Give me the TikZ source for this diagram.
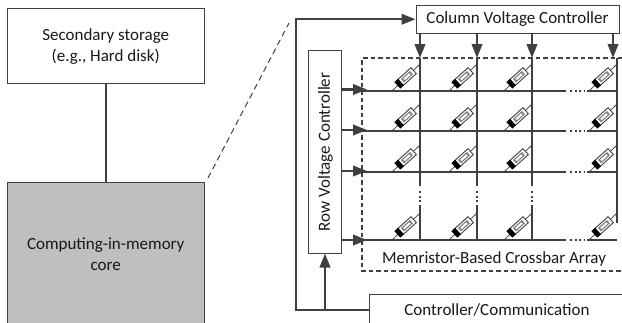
\documentclass[tikz,border=0pt]{standalone}
\usepackage{fontspec}
\setmainfont{Carlito}
\usetikzlibrary{arrows.meta,calc}
\definecolor{ink}{HTML}{404040}
\definecolor{coregray}{HTML}{BFBFBF}
\tikzset{
  box/.style={draw=ink,line width=1pt,fill=white,inner sep=0pt,align=center,font=\fontsize{17}{20.5}\selectfont,text=black!90},
  label/.style={inner sep=0pt,align=center,font=\fontsize{17}{20.5}\selectfont,text=black!90},
  wire/.style={draw=ink,line width=2.2pt},
  arrowwire/.style={draw=ink,line width=2.2pt,-{Triangle[length=14pt,width=10.5pt]}},
  dots/.style={draw=ink,line width=1.6pt,dash pattern=on 2pt off 2.5pt},
  pics/memristor/.style={code={
    \fill[white,draw=ink,line width=.9pt] (-7,-4) rectangle (11,4);
    \fill[black] (-11,-4.4) rectangle (-6,4.4);
    \fill[black!50] (-4,-2.3) rectangle (8,2.3);
    \fill[white] (-2,-1) rectangle (6,1);
  }}
}
\begin{document}
\begin{tikzpicture}[x=1pt,y=-1pt]
\useasboundingbox (0,0) rectangle (622,322);
\clip (0,0) rectangle (622,322);
% left column
\node[box,minimum width=196.5pt,minimum height=75pt] (sec) at (105.75,45.5) {};
\node[label] (sectext) at (105.75,46.5) {Secondary storage\\(e.g., Hard disk)};
\node[box,fill=coregray,minimum width=196.5pt,minimum height=170pt] (core) at (105.75,267) {};
\node[label] (coretext) at (105.75,254) {Computing-in-memory\\core};
\draw[wire] (sec) -- (core);
\coordinate (zoomA) at (208,178);
\coordinate (zoomB) at (289,23);
\draw[draw=ink,line width=1pt,dash pattern=on 6pt off 4pt] (zoomA) -- (zoomB);
% controllers
\node[box,minimum width=203pt,minimum height=28.5pt] (col) at (517.5,19.25) {Column Voltage Controller};
\node[box,minimum width=32.5pt,minimum height=203pt] (row) at (325,151.5) {};
\node[label,rotate=90] (rowtext) at (325.5,152) {Row Voltage Controller};
\node[box,minimum width=271pt,minimum height=46pt,anchor=north west] (ctrl) at (369,294) {};
\node[label] (ctrltext) at (497,310) {Controller/Communication};
\coordinate (port) at (369,310);
\coordinate (busx) at (296,310);
\coordinate (rowtap) at (325,310);
\draw[arrowwire] (port) -- (busx) |- (col.west);
\draw[arrowwire] (rowtap) -- (row.south);
% array frame
\coordinate (frameTR) at (630,58);
\coordinate (frameTL) at (362,58);
\coordinate (frameBL) at (362,271);
\coordinate (frameBR) at (630,271);
\draw[draw=ink,line width=1.7pt,dash pattern=on 4.5pt off 3pt] (frameTR) -- (frameTL) -- (frameBL) -- (frameBR);
\node[label] (arraytext) at (494,259) {Memristor-Based Crossbar Array};
% rows
\foreach \n/\y/\ay in {1/91/89.5,2/131/130,3/172/171,4/240/240}{
  \coordinate (rs\n) at (362,\y);
  \coordinate (re\n) at (566,\y);
  \coordinate (ds\n) at (570,\y);
  \coordinate (de\n) at (584,\y);
  \coordinate (ls\n) at (587,\y);
  \coordinate (le\n) at (617,\y);
  \coordinate (as\n) at (342,\ay);
  \coordinate (ae\n) at (367,\ay);
  \draw[wire] (rs\n) -- (re\n);
  \draw[dots] (ds\n) -- (de\n);
  \draw[wire] (ls\n) -- (le\n);
  \draw[arrowwire] (as\n) -- (ae\n);
}
% columns
\foreach \n/\x in {1/420,2/477,3/532}{
  \coordinate (ca\n) at (\x,33.5);
  \coordinate (ct\n) at (\x,58);
  \coordinate (cm\n) at (\x,186);
  \coordinate (dm\n) at (\x,191);
  \coordinate (dn\n) at (\x,203);
  \coordinate (cn\n) at (\x,205);
  \coordinate (cb\n) at (\x,240);
  \draw[wire] (ct\n) -- (cm\n);
  \draw[dots] (dm\n) -- (dn\n);
  \draw[wire] (cn\n) -- (cb\n);
  \draw[arrowwire] (ca\n) -- (ct\n);
}
\coordinate (ca4) at (613,33.5);
\coordinate (ct4) at (613,58);
\coordinate (cs4) at (617,58);
\coordinate (cb4) at (617,223);
\draw[wire] (cs4) -- (cb4);
\draw[arrowwire] (ca4) -- (ct4);
% memristors
\foreach \x in {420,477,532,617}{
  \foreach \y in {91,131,172,240}{
    \coordinate (wa) at (\x-28,\y);
    \coordinate (wb) at (\x-1,\y-26);
    \draw[draw=ink,line width=.8pt] (wa) -- (wb);
    \path ($(wa)!.5!(wb)$) pic[rotate=42] {memristor};
  }
}
\end{tikzpicture}
\end{document}
